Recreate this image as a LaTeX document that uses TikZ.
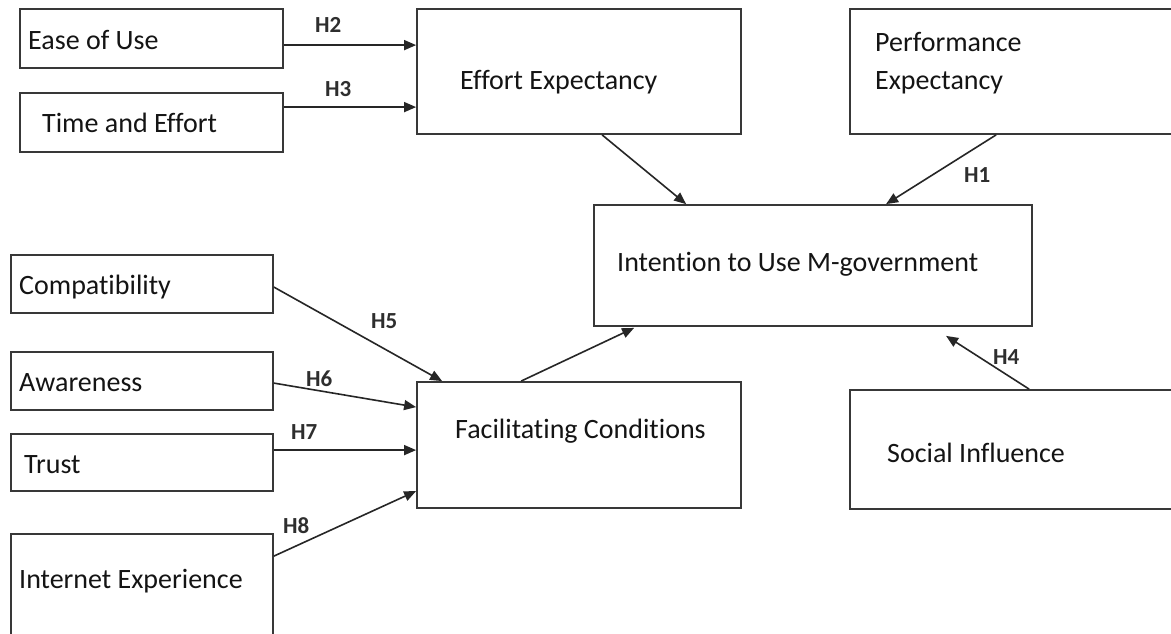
\documentclass[tikz,border=0pt]{standalone}
\usepackage{fontspec}
\setmainfont{Carlito}[Ligatures={NoCommon}]
\usetikzlibrary{fit,calc,arrows.meta}
\begin{document}
\begin{tikzpicture}[x=1pt,y=-1pt,
  box/.style={draw=black!78, line width=1.8pt, inner sep=0pt, fill=none},
  txt/.style={anchor=base west, inner sep=0pt, font=\fontsize{28}{37}\selectfont, text=black!92},
  hyp/.style={anchor=base west, inner sep=0pt, font=\fontsize{23}{26}\selectfont\bfseries, text=black!82},
  arr/.style={draw=black!85, line width=1.6pt, -{Triangle[length=12pt,width=10pt]}}]
\useasboundingbox (0,0) rectangle (1171,634);
\fill[white] (0,0) rectangle (1171,634);
% boxes
\node[box, fit={(20,9) (283,68)}] (ease) {};
\node[box, fit={(20,93) (283,152)}] (time) {};
\node[box, fit={(417,9) (741,134)}] (effort) {};
\node[box, fit={(850,9) (1190,134)}] (perf) {};
\node[box, fit={(594,205) (1032,326)}] (intent) {};
\node[box, fit={(11,255) (273,313)}] (compat) {};
\node[box, fit={(11,352) (273,410)}] (aware) {};
\node[box, fit={(11,434) (273,491)}] (trust) {};
\node[box, fit={(11,534) (273,660)}] (inet) {};
\node[box, fit={(417,382) (741,508)}] (facil) {};
\node[box, fit={(850,390) (1190,509)}] (social) {};
% texts
\node[txt] (tease) at (28,50) {Ease of Use};
\node[txt] (ttime) at (42,132) {Time and Effort};
\node[txt] (teffort) at (460,90) {Effort Expectancy};
\node[txt] (tperf1) at (875,52) {Performance};
\node[txt] (tperf2) at (875,89) {Expectancy};
\node[txt] (tintent) at (617,271) {Intention to Use M-government};
\node[txt] (tcompat) at (19,294) {Compatibility};
\node[txt] (taware) at (19,391) {Awareness};
\node[txt] (ttrust) at (24,473) {Trust};
\node[txt] (tinet) at (19,588) {Internet Experience};
\node[txt] (tfacil) at (455,438) {Facilitating Conditions};
\node[txt] (tsocial) at (887,462) {Social Influence};
% hypothesis labels
\node[hyp] (h2) at (315,33) {H2};
\node[hyp] (h3) at (325,97) {H3};
\node[hyp] (h1) at (964,182) {H1};
\node[hyp] (h5) at (371,328) {H5};
\node[hyp] (h6) at (306,386) {H6};
\node[hyp] (h7) at (291,439) {H7};
\node[hyp] (h8) at (283,533) {H8};
\node[hyp] (h4) at (993,364) {H4};
% connectors
\draw[arr] ($(ease.north east)+(0,37)$) -- ($(effort.north west)+(0,37)$);
\draw[arr] ($(time.north east)+(0,15)$) -- ($(effort.north west)+(0,99)$);
\draw[arr] ($(effort.south west)+(186,0)$) -- ($(intent.north west)+(93,0)$);
\draw[arr] ($(perf.south west)+(147,0)$) -- ($(intent.north west)+(293,0)$);
\draw[arr] ($(compat.north east)+(0,33)$) -- ($(facil.north west)+(26,0)$);
\draw[arr] ($(aware.north east)+(0,32)$) -- ($(facil.north west)+(0,26)$);
\draw[arr] ($(trust.north east)+(0,17)$) -- ($(facil.north west)+(0,69)$);
\draw[arr] ($(inet.north east)+(0,23)$) -- ($(facil.north west)+(0,110)$);
\draw[arr] ($(facil.north west)+(105,0)$) -- ($(intent.south west)+(41,1)$);
\draw[arr] ($(social.north west)+(180,0)$) -- ($(intent.south west)+(353,9)$);
\end{tikzpicture}
\end{document}
